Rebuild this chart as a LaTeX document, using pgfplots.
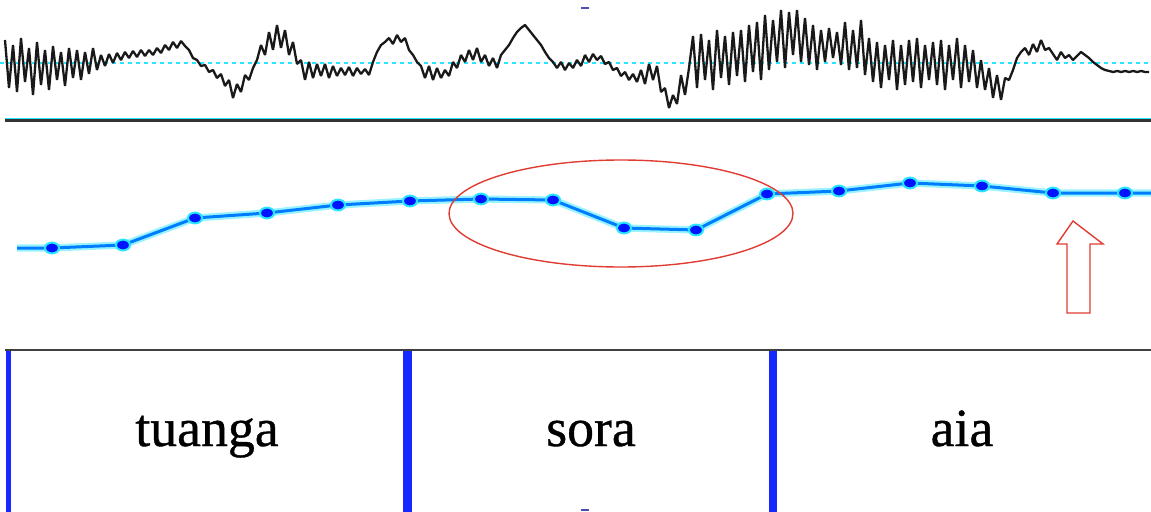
\documentclass[border=0pt]{standalone}
\usepackage{pgfplots}
\pgfplotsset{compat=1.18}
\usepackage{fontspec}
\setmainfont{Liberation Serif}
\newfontfamily\tgfont[FakeBold=0.7]{Liberation Serif}
\definecolor{pitchline}{RGB}{0,125,255}
\definecolor{halo}{RGB}{40,230,255}
\definecolor{marker}{RGB}{0,20,255}
\definecolor{tgblue}{RGB}{20,40,255}
\definecolor{annred}{RGB}{225,60,50}
\begin{document}
\begin{tikzpicture}
\begin{axis}[
  scale only axis, width=575.5bp, height=256bp,
  xmin=0, xmax=1151, ymin=0, ymax=512, y dir=reverse,
  hide axis, clip=false,
]
% zero line of the waveform
\addplot[halo, line width=0.9bp, dash pattern=on 2bp off 2bp] coordinates {(0,63) (1151,63)};
% waveform
\addplot[black!90, line width=1.15bp, line join=bevel] coordinates {
(5,40) (9,88) (13,45) (17,92) (21,38) (25,82) (29,48) (33,95) (37,42) (41,85) (45,50) (49,90) (53,46) (57,80) (61,52) (65,86) (69,48) (73,78) (77,50) (81,80) (85,52) (89,74) (93,48) (97,70)
(101,55) (105,66) (109,54) (113,63) (117,53) (121,60) (125,52) (129,58) (133,51) (137,57) (141,50) (145,56) (149,50) (153,55) (157,48) (161,53) (165,45) (169,50) (173,42) (177,48) (181,41) (185,46)
(189,50) (193,58) (197,60) (201,66) (205,65) (209,72) (213,70) (217,78) (221,74) (225,86) (229,80) (233,98) (237,84) (241,92) (245,75) (249,80)
(253,68) (257,60) (261,45) (265,55) (269,32) (273,50) (277,25) (281,48) (285,30) (289,55) (293,42) (297,64)
(301,60) (305,80) (309,62) (313,78) (317,64) (321,76) (325,64) (329,78) (333,66) (337,76) (341,68) (345,75) (349,67) (353,76) (357,68) (361,74) (365,69) (369,75) (373,62) (377,52)
(381,45) (385,42) (389,38) (393,44) (397,35) (401,42) (405,38) (409,50) (413,55) (417,62) (421,66)
(425,78) (429,66) (433,80) (437,68) (441,78) (445,70) (449,76)
(453,62) (457,68) (461,55) (465,62) (469,50) (473,60) (477,48) (481,62) (485,55) (489,66) (493,58) (497,68)
(501,55) (505,50) (509,45) (513,38) (517,32) (521,28) (525,25) (529,30) (533,35) (537,40) (541,45) (545,52) (549,58) (553,62)
(557,68) (561,62) (565,70) (569,63) (573,68) (577,60) (581,66) (585,55) (589,62) (593,54) (597,60)
(601,56) (605,64) (609,62) (613,70) (617,68) (621,76) (625,72) (629,80) (633,74) (637,82) (641,70) (645,84) (649,64) (653,80) (657,66) (661,92)
(665,88) (669,108) (673,95) (677,104) (681,75) (685,95) (689,68)
(693,36) (697,88) (701,34) (705,80) (709,40) (713,90) (717,30) (721,78) (725,36) (729,85) (733,32) (737,76) (741,30) (745,82) (749,25) (753,72) (757,22) (761,80)
(765,15) (769,70) (773,20) (777,62) (781,10) (785,68) (789,12) (793,55) (797,10) (801,62) (805,18) (809,65) (813,25) (817,70) (821,30) (825,62) (829,28) (833,58) (837,32) (841,65) (845,22) (849,70) (853,30) (857,68)
(861,20) (865,75) (869,38) (873,82) (877,42) (881,88) (885,45) (889,80) (893,40) (897,90) (901,45) (905,85) (909,40) (913,82) (917,38) (921,88) (925,45) (929,80) (933,42) (937,85) (941,40) (945,90) (949,45) (953,80) (957,38) (961,88) (965,45) (969,82) (973,50) (977,88)
(981,60) (985,90) (989,68) (993,98) (997,75) (1001,100) (1005,78) (1009,80)
(1013,70) (1017,58) (1021,52) (1025,48) (1029,55) (1033,44) (1037,52) (1041,40) (1045,50) (1049,48)
(1053,54) (1057,60) (1061,52) (1065,58) (1069,55) (1073,60) (1077,56) (1081,52) (1085,55) (1089,58) (1093,62) (1097,65) (1101,68) (1105,70) (1109,71) (1113,72) (1117,71) (1121,72) (1125,71) (1129,72) (1133,71) (1137,72) (1141,71) (1145,72) (1149,72)
};
% panel separator
\addplot[halo, line width=0.8bp] coordinates {(5,118.5) (1151,118.5)};
\addplot[black!80, line width=1.1bp] coordinates {(5,120.5) (1151,120.5)};
% pitch contour: halo, line, points
\addplot[halo!80, line width=3.6bp, opacity=0.6] coordinates {
(17,248) (52,248) (123,245) (195,218) (267,213) (338,205) (410,201) (481,199) (553,200) (624,228) (696,230) (767,194) (839,191) (910,183) (982,186) (1053,193) (1125,193) (1151,193)};
\addplot[pitchline, line width=1.5bp] coordinates {
(17,248) (52,248) (123,245) (195,218) (267,213) (338,205) (410,201) (481,199) (553,200) (624,228) (696,230) (767,194) (839,191) (910,183) (982,186) (1053,193) (1125,193) (1151,193)};
\addplot[only marks, mark=*, mark size=2.7bp, mark options={draw=halo, fill=marker, line width=1bp, xscale=1.3}] coordinates {
(52,248) (123,245) (195,218) (267,213) (338,205) (410,201) (481,199) (553,200) (624,228) (696,230) (767,194) (839,191) (910,183) (982,186) (1053,193) (1125,193)};
% annotations
\draw[annred, line width=0.7bp] (axis cs:621,213.5) ellipse [x radius=86bp, y radius=26.75bp];
\draw[annred, line width=0.7bp, fill=white] (axis cs:1073,221) -- (axis cs:1103,244) -- (axis cs:1090,244) -- (axis cs:1090,313) -- (axis cs:1067,313) -- (axis cs:1067,244) -- (axis cs:1057,244) -- cycle;
% text grid
\addplot[black!75, line width=1bp] coordinates {(5,350) (1151,350)};
\addplot[tgblue, line width=2.5bp] coordinates {(8,351) (8,512)};
\addplot[tgblue, line width=4.5bp] coordinates {(407,351) (407,512)};
\addplot[tgblue, line width=4bp] coordinates {(773,351) (773,512)};
\node[anchor=base, font=\tgfont\fontsize{27}{32}\selectfont] at (axis cs:207,446) {tuanga};
\node[anchor=base, font=\tgfont\fontsize{27}{32}\selectfont] at (axis cs:591,446) {sora};
\node[anchor=base, font=\tgfont\fontsize{27}{32}\selectfont] at (axis cs:962,446) {aia};
% small marks
\addplot[blue!40!gray, line width=0.8bp] coordinates {(581,8) (589,8)};
\addplot[blue!40!gray, line width=0.8bp] coordinates {(581,510) (589,510)};
\end{axis}
\pgfresetboundingbox
\path (current axis.south west) rectangle (current axis.north east);
\end{tikzpicture}
\end{document}
